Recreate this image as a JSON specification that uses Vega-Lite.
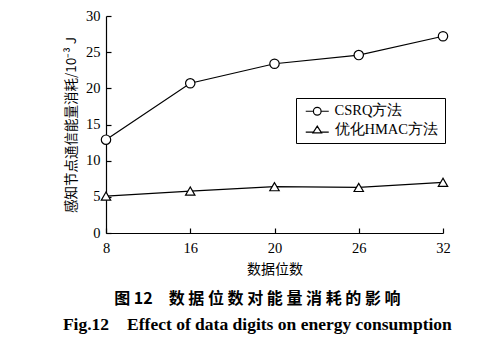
{
  "$schema": "https://vega.github.io/schema/vega-lite/v6.json",
  "autosize": {"type": "none"},
  "padding": {"left": 106, "top": 16, "right": 41, "bottom": 111},
  "width": 337,
  "height": 217,
  "background": "white",
  "config": {
    "view": {"stroke": null},
    "font": "Liberation Serif"
  },
  "title": {
    "text": "图 12　数 据 位 数 对 能 量 消 耗 的 影 响",
    "subtitle": "Fig.12　Effect of data digits on energy consumption",
    "orient": "bottom",
    "anchor": "middle",
    "frame": "bounds",
    "font": "Noto Sans CJK SC",
    "fontSize": 16,
    "fontWeight": "bold",
    "color": "black",
    "subtitleFont": "Liberation Serif",
    "subtitleFontSize": 17.5,
    "subtitleFontWeight": "bold",
    "subtitleColor": "black",
    "subtitlePadding": 9,
    "offset": 14
  },
  "data": {
    "values": [
      {"digits": 8, "method": "CSRQ方法", "energy": 12.9},
      {"digits": 16, "method": "CSRQ方法", "energy": 20.7},
      {"digits": 20, "method": "CSRQ方法", "energy": 23.4},
      {"digits": 26, "method": "CSRQ方法", "energy": 24.6},
      {"digits": 32, "method": "CSRQ方法", "energy": 27.2},
      {"digits": 8, "method": "优化HMAC方法", "energy": 5.1},
      {"digits": 16, "method": "优化HMAC方法", "energy": 5.8},
      {"digits": 20, "method": "优化HMAC方法", "energy": 6.4},
      {"digits": 26, "method": "优化HMAC方法", "energy": 6.3},
      {"digits": 32, "method": "优化HMAC方法", "energy": 7.0}
    ]
  },
  "encoding": {
    "x": {
      "field": "digits",
      "type": "ordinal",
      "scale": {"type": "point", "padding": 0},
      "axis": {
        "title": "数据位数",
        "titleFont": "Noto Sans CJK SC",
        "titleFontSize": 14,
        "titleFontWeight": "normal",
        "titleColor": "black",
        "titlePadding": 8,
        "labelAngle": 0,
        "labelFont": "Liberation Serif",
        "labelFontSize": 14.5,
        "labelColor": "black",
        "labelPadding": 13,
        "tickSize": -5,
        "tickColor": "black",
        "domainColor": "black",
        "domainWidth": 1.2,
        "tickWidth": 1.2,
        "grid": false
      }
    },
    "y": {
      "field": "energy",
      "type": "quantitative",
      "scale": {"domain": [0, 30], "nice": false},
      "axis": {
        "title": "感知节点通信能量消耗/10⁻³ J",
        "titleFont": "Noto Sans CJK SC",
        "titleFontSize": 13.5,
        "titleFontWeight": "normal",
        "titleColor": "black",
        "titlePadding": 7,
        "values": [0, 5, 10, 15, 20, 25, 30],
        "labelFont": "Liberation Serif",
        "labelFontSize": 14.5,
        "labelColor": "black",
        "labelPadding": 11,
        "tickSize": -5,
        "tickColor": "black",
        "domainColor": "black",
        "domainWidth": 1.2,
        "tickWidth": 1.2,
        "grid": false
      }
    }
  },
  "resolve": {"scale": {"shape": "independent"}},
  "layer": [
    {
      "mark": {"type": "line", "color": "black", "strokeWidth": 1.2},
      "encoding": {"detail": {"field": "method"}}
    },
    {
      "mark": {"type": "point", "filled": true, "fill": "white", "stroke": "black", "strokeWidth": 1.2, "opacity": 1, "size": 88},
      "encoding": {
        "shape": {
          "field": "method",
          "type": "nominal",
          "scale": {"domain": ["CSRQ方法", "优化HMAC方法"], "range": ["circle", "triangle-up"]},
          "legend": null
        }
      }
    },
    {
      "transform": [{"filter": "datum.energy < 0"}],
      "mark": {"type": "point", "filled": false, "stroke": "black", "strokeWidth": 1.2, "opacity": 1, "size": 92},
      "encoding": {
        "shape": {
          "field": "method",
          "type": "nominal",
          "scale": {
            "domain": ["CSRQ方法", "优化HMAC方法"],
            "range": [
              "M-0.8,0 A0.8,0.8 0 1,0 0.8,0 A0.8,0.8 0 1,0 -0.8,0 M-2.4,0 L-0.8,0 M0.8,0 L2.4,0",
              "M0,-0.85 L0.9,0.55 L-0.9,0.55 Z M-2.4,0.4 L-0.8,0.4 M0.8,0.4 L2.4,0.4"
            ]
          },
          "legend": {
            "title": null,
            "orient": "none",
            "legendX": 190,
            "legendY": 82,
            "strokeColor": "black",
            "fillColor": "white",
            "padding": 6,
            "symbolOffset": 8,
            "symbolSize": 92,
            "symbolStrokeColor": "black",
            "symbolFillColor": "white",
            "symbolStrokeWidth": 1.2,
            "labelFont": "Liberation Serif",
            "labelFontSize": 14.5,
            "labelColor": "black",
            "labelOffset": 10,
            "rowPadding": 4
          }
        }
      }
    }
  ]
}
